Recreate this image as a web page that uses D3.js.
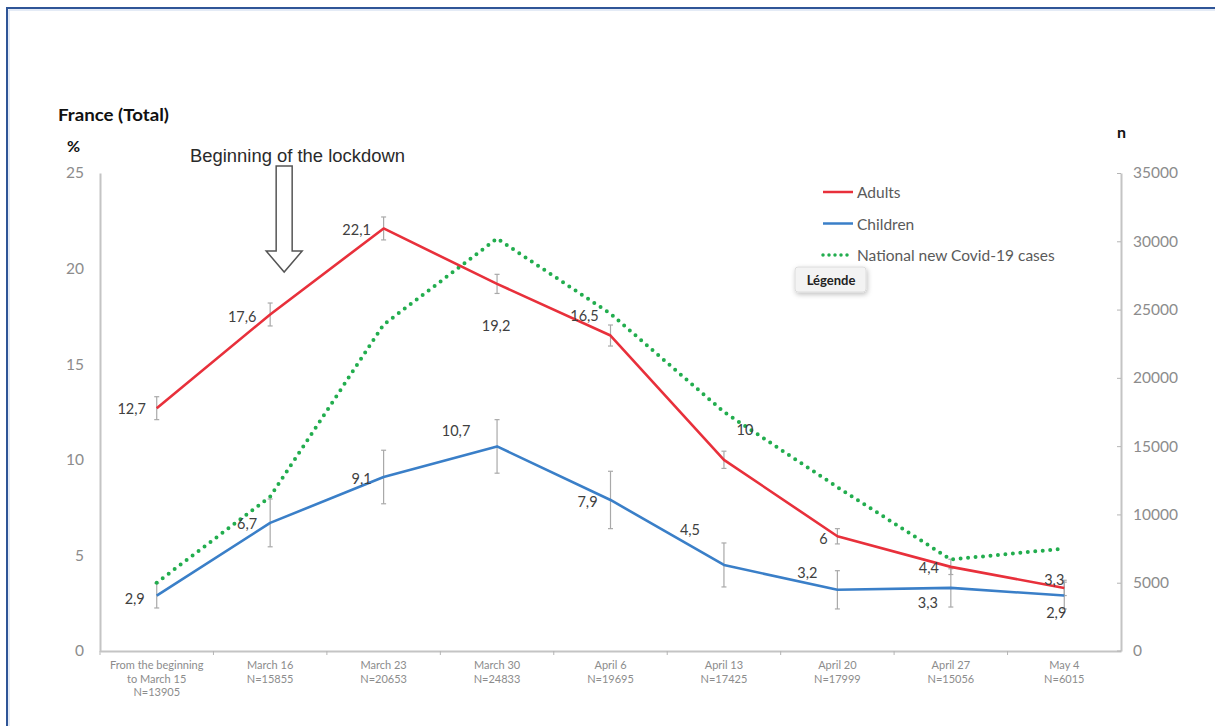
<!DOCTYPE html>
<html><head><meta charset="utf-8">
<script src="https://cdn.jsdelivr.net/npm/d3@7"></script>
<style>
html,body{margin:0;padding:0;background:#fff;}
svg{display:block;}
text{font-family:Lato,"Open Sans",sans-serif;}
</style></head>
<body><svg id="c" width="1215" height="726"></svg>
<script>
const categories = ["From the beginning|to March 15|N=13905","March 16|N=15855","March 23|N=20653","March 30|N=24833","April 6|N=19695","April 13|N=17425","April 20|N=17999","April 27|N=15056","May 4|N=6015"];
const adults = [12.7,17.6,22.1,19.2,16.5,10,6,4.4,3.3];
const adultsErr = [0.6,0.6,0.6,0.5,0.55,0.45,0.4,0.4,0.4];
const adultsLabels = ["12,7","17,6","22,1","19,2","16,5","10","6","4,4","3,3"];
const children = [2.9,6.7,9.1,10.7,7.9,4.5,3.2,3.3,2.9];
const childrenErr = [0.65,1.25,1.4,1.4,1.5,1.15,1.0,1.0,0.7];
const childrenLabels = ["2,9","6,7","9,1","10,7","7,9","4,5","3,2","3,3","2,9"];
const covidCases = [5000,11300,23900,30200,24700,17500,12000,6700,7500];
const leftTicks = [0,5,10,15,20,25];
const rightTicks = [0,5000,10000,15000,20000,25000,30000,35000];

// label offsets (style)
const adultOff = [[-25,0],[-28,2],[-27,1],[-1,42],[-26,-20],[21,-30],[-14,2],[-22,1],[-10,-8]];
const childOff = [[-22,3],[-23,1],[-22,1],[-41,-16],[-23,2],[-34,-35],[-30,-17],[-23,15],[-8,17]];

const svg = d3.select("#c");
const L=100, R=1121, T=173, B=651;

// frame
svg.append("rect").attr("x",7).attr("y",8).attr("width",1230).attr("height",730)
  .attr("fill","none").attr("stroke","#2f5597").attr("stroke-width",2);
svg.append("rect").attr("x",9).attr("y",10).attr("width",1230).attr("height",730)
  .attr("fill","none").attr("stroke","#c9d7ee").attr("stroke-width",1);

const x = d3.scaleBand().domain(categories).range([L,R]).padding(0);
const y = d3.scaleLinear().domain([0,25]).range([B,T]);
const y2 = d3.scaleLinear().domain([0,35000]).range([B,T]);
const cx = d => x(d)+x.bandwidth()/2;

// left axis
const gl = svg.append("g").attr("transform",`translate(${L},0)`)
  .call(d3.axisLeft(y).tickValues(leftTicks).tickSize(0).tickPadding(16).tickFormat(d3.format("d")));
gl.select(".domain").attr("stroke","#c4c4c4").attr("stroke-width",2);
gl.selectAll("text").attr("fill","#8c8c8c").style("font-size","15.5px").style("font-family","Lato,sans-serif");

// right axis
const gr = svg.append("g").attr("transform",`translate(${R},0)`)
  .call(d3.axisRight(y2).tickValues(rightTicks).tickSizeInner(-4).tickSizeOuter(0).tickPadding(12).tickFormat(d3.format("d")));
gr.select(".domain").attr("stroke","#c4c4c4").attr("stroke-width",2);
gr.selectAll(".tick line").attr("stroke","#b5b5b5");
gr.selectAll("text").attr("fill","#8c8c8c").style("font-size","15.5px").style("font-family","Lato,sans-serif");

// bottom axis
const gb = svg.append("g").attr("transform",`translate(0,${B})`)
  .call(d3.axisBottom(x).tickSize(0).tickFormat(""));
gb.select(".domain").attr("stroke","#c4c4c4").attr("stroke-width",2);
gb.selectAll(".tick").remove();
svg.append("g").selectAll("line").data(categories.slice(1)).join("line")
  .attr("x1",d=>x(d)).attr("x2",d=>x(d)).attr("y1",B).attr("y2",B+4)
  .attr("stroke","#b5b5b5");
svg.append("line").attr("x1",L).attr("x2",L).attr("y1",B).attr("y2",B+4).attr("stroke","#b5b5b5");
svg.append("line").attr("x1",R-4).attr("x2",R).attr("y1",B).attr("y2",B).attr("stroke","#b5b5b5");

const xl = svg.append("g").selectAll("text").data(categories).join("text")
  .attr("x",d=>cx(d)).attr("y",B+18).attr("text-anchor","middle")
  .attr("fill","#8c8c8c").style("font-size","11px");
xl.each(function(d){
  const t=d3.select(this);
  d.split("|").forEach((s,i)=>t.append("tspan").attr("x",cx(d)).attr("dy",i?13.5:0).text(s));
});

// error bars
function errBars(vals, errs){
  const g = svg.append("g").attr("stroke","#a9a9a9").attr("stroke-width",1.2);
  categories.forEach((c,i)=>{
    const xx=cx(c), y1=y(vals[i]+errs[i]), y0=y(vals[i]-errs[i]);
    g.append("line").attr("x1",xx).attr("x2",xx).attr("y1",y1).attr("y2",y0);
    g.append("line").attr("x1",xx-2.5).attr("x2",xx+2.5).attr("y1",y1).attr("y2",y1);
    g.append("line").attr("x1",xx-2.5).attr("x2",xx+2.5).attr("y1",y0).attr("y2",y0);
  });
}
errBars(adults, adultsErr);
errBars(children, childrenErr);

// lines
const lineL = d3.line().x((d,i)=>cx(categories[i])).y(d=>y(d));
const lineR = d3.line().x((d,i)=>cx(categories[i])).y(d=>y2(d));
svg.append("path").datum(covidCases).attr("d",lineR).attr("fill","none")
  .attr("stroke","#22ad4e").attr("stroke-width",4).attr("stroke-linecap","round").attr("stroke-dasharray","0,7.5");
svg.append("path").datum(adults).attr("d",lineL).attr("fill","none")
  .attr("stroke","#e8303b").attr("stroke-width",2.6).attr("stroke-linejoin","round");
svg.append("path").datum(children).attr("d",lineL).attr("fill","none")
  .attr("stroke","#3a7fc8").attr("stroke-width",2.6).attr("stroke-linejoin","round");

// data labels
function labels(vals, labs, offs){
  svg.append("g").selectAll("text").data(vals).join("text")
    .attr("x",(d,i)=>cx(categories[i])+offs[i][0])
    .attr("y",(d,i)=>y(d)+offs[i][1])
    .attr("text-anchor","middle").attr("dominant-baseline","central")
    .attr("fill","#404040").style("font-size","14.5px")
    .text((d,i)=>labs[i]);
}
labels(adults, adultsLabels, adultOff);
labels(children, childrenLabels, childOff);

// titles
svg.append("text").attr("x",58).attr("y",121).attr("fill","#111").style("font-size","17px").style("font-weight","bold")
  .attr("textLength",111).attr("lengthAdjust","spacingAndGlyphs").text("France (Total)");
svg.append("text").attr("x",67).attr("y",152).attr("fill","#111").style("font-size","16px").style("font-weight","bold").text("%");
svg.append("text").attr("x",1117).attr("y",138).attr("fill","#111").style("font-size","16px").style("font-weight","bold").text("n");

// lockdown annotation
svg.append("text").attr("x",190).attr("y",162).attr("fill","#2a2a2a")
  .style("font-family","'Liberation Sans Narrow','Arial Narrow','Liberation Sans',sans-serif").style("font-size","17.5px")
  .attr("textLength",215).attr("lengthAdjust","spacingAndGlyphs")
  .text("Beginning of the lockdown");
const ax = cx(categories[1])+14;
svg.append("path").attr("d",`M${ax-8},166 L${ax+8},166 L${ax+8},251 L${ax+18},251 L${ax},272 L${ax-18},251 L${ax-8},251 Z`)
  .attr("fill","#fff").attr("stroke","#555").attr("stroke-width",1.5).attr("stroke-linejoin","miter");

// legend
const leg = [["Adults","#e8303b",null],["Children","#3a7fc8",null],["National new Covid-19 cases","#22ad4e","0,6"]];
const lg = svg.append("g");
leg.forEach((d,i)=>{
  const yy = 192 + i*31.5;
  const ln = lg.append("line").attr("x1",823).attr("x2",853).attr("y1",yy).attr("y2",yy).attr("stroke",d[1]);
  if(d[2]) ln.attr("stroke-width",3.5).attr("stroke-linecap","round").attr("stroke-dasharray",d[2]);
  else ln.attr("stroke-width",2.5);
  lg.append("text").attr("x",857).attr("y",yy).attr("dominant-baseline","central")
    .attr("fill","#5a5a5a").style("font-size","15.5px").text(d[0]);
});
// "Légende" tooltip box
const defs = svg.append("defs");
const f = defs.append("filter").attr("id","sh").attr("x","-20%").attr("y","-30%").attr("width","150%").attr("height","180%");
f.append("feDropShadow").attr("dx",1).attr("dy",2).attr("stdDeviation",2.5).attr("flood-color","#000").attr("flood-opacity",0.25);
svg.append("rect").attr("x",795).attr("y",267).attr("width",71).attr("height",25).attr("rx",3)
  .attr("fill","#f3f3f3").attr("stroke","#dcdcdc").attr("filter","url(#sh)");
svg.append("text").attr("x",831).attr("y",280).attr("text-anchor","middle").attr("dominant-baseline","central")
  .attr("fill","#222").style("font-size","13px").style("font-weight","bold").text("Légende");
</script></body></html>
